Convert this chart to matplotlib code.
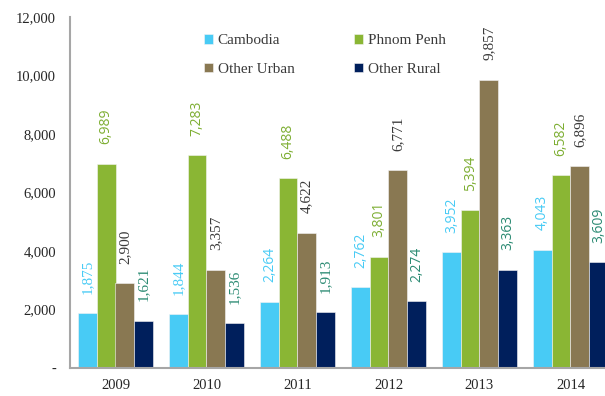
import numpy as np
import matplotlib.pyplot as plt
from matplotlib.ticker import FuncFormatter

years = ['2009', '2010', '2011', '2012', '2013', '2014']
series = ['Cambodia', 'Phnom Penh', 'Other Urban', 'Other Rural']
cambodia = [1875, 1844, 2264, 2762, 3952, 4043]
phnom_penh = [6989, 7283, 6488, 3801, 5394, 6582]
other_urban = [2900, 3357, 4622, 6771, 9857, 6896]
other_rural = [1621, 1536, 1913, 2274, 3363, 3609]

bar_colors = ['#48CBF5', '#8AB634', '#897852', '#001F5C']
label_colors = ['#48CBF5', '#7DAE32', '#3A3A3A', '#2A8A72']
# label fonts per series and year (the source mixes serif and sans labels)
label_fonts = [
    ['serif', 'serif', 'sans', 'sans', 'sans', 'sans'],
    ['sans'] * 6,
    ['serif'] * 6,
    ['serif', 'serif', 'serif', 'sans', 'sans', 'sans'],
]
SERIF = 'Liberation Serif'
SANS = 'Open Sans'

values = [cambodia, phnom_penh, other_urban, other_rural]

fig = plt.figure(figsize=(6.05, 3.96), dpi=100)
ax = fig.add_axes([70 / 605, 28 / 396, 546 / 605, 351 / 396])

x = np.arange(len(years))
w = 0.205
handles = []
for i, (vals, name) in enumerate(zip(values, series)):
    pos = x + (i - 1.5) * w
    bars = ax.bar(pos, vals, width=w, color=bar_colors[i], label=name,
                  edgecolor='#f4f4f4', linewidth=0.4)
    handles.append(bars)
    for j, (px, v) in enumerate(zip(pos, vals)):
        if label_fonts[i][j] == 'serif':
            fam, fs = SERIF, 11
        else:
            fam, fs = SANS, 10
        ax.annotate(f'{v:,}', (px, v), xytext=(0, 14), textcoords='offset points',
                    rotation=90, ha='center', va='bottom',
                    color=label_colors[i], family=fam, fontsize=fs)

ax.set_xlim(-0.5, 5.5)
ax.set_ylim(0, 12000)
ax.set_yticks(range(0, 12001, 2000))
ax.yaxis.set_major_formatter(FuncFormatter(lambda v, p: '-' if v == 0 else f'{int(v):,}'))
ax.set_xticks(x)
ax.set_xticklabels(years)
for lbl in ax.get_xticklabels() + ax.get_yticklabels():
    lbl.set_family(SERIF)
    lbl.set_fontsize(10.5)
    lbl.set_color('#262626')
ax.tick_params(axis='both', length=0)
ax.tick_params(axis='x', pad=8)
ax.tick_params(axis='y', pad=10)

for s in ['top', 'right']:
    ax.spines[s].set_visible(False)
for s in ['left', 'bottom']:
    ax.spines[s].set_color('#a6a6a6')
    ax.spines[s].set_linewidth(1.5)

# legend is filled column by column, so order handles to read across rows
order = [0, 2, 1, 3]
leg = ax.legend([handles[k] for k in order], [series[k] for k in order],
                loc='upper left', bbox_to_anchor=(0.22, 0.99), ncol=2, frameon=False,
                prop={'family': SERIF, 'size': 11}, handlelength=0.6, handleheight=0.6,
                handletextpad=0.3, columnspacing=3.9, labelspacing=1.0)
for t in leg.get_texts():
    t.set_color('#3a3a3a')

fig.savefig('out.png', dpi=100)
